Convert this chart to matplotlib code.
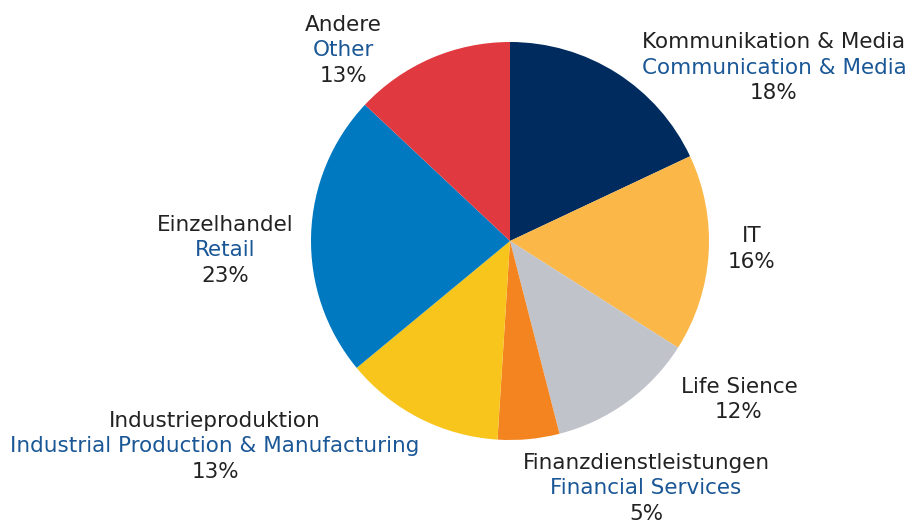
import matplotlib
matplotlib.use("Agg")
import matplotlib.pyplot as plt

# sector shares in percent, clockwise from 12 o'clock
labels_de = ["Kommunikation & Media", "IT", "Life Sience", "Finanzdienstleistungen",
             "Industrieproduktion", "Einzelhandel", "Andere"]
labels_en = ["Communication & Media", None, None, "Financial Services",
             "Industrial Production & Manufacturing", "Retail", "Other"]
shares = [18, 16, 12, 5, 13, 23, 13]
colors = ["#002B5E", "#FBB747", "#C0C3CA", "#F3841F", "#F8C51C", "#0079C1", "#E03A40"]

# label anchor (pixel coords: centre x, baseline of first line)
label_pos = [(774, 48), (752, 242), (739, 393), (646, 469),
             (215, 427), (225, 231), (343, 31)]

W, H = 908, 524


def main():
    fig = plt.figure(figsize=(W / 100, H / 100), dpi=100)
    ax = fig.add_axes([0, 0, 1, 1])

    ax.pie(shares, colors=colors, startangle=90, counterclock=False,
           center=(510, H - 241), radius=199,
           wedgeprops=dict(linewidth=0))
    ax.set_xlim(0, W)
    ax.set_ylim(0, H)
    ax.set_aspect("equal")
    ax.axis("off")

    step = 25.5
    for de, en, v, (x, y) in zip(labels_de, labels_en, shares, label_pos):
        lines = [(de, "#222222")]
        if en:
            lines.append((en, "#1A5796"))
        lines.append(("%d%%" % v, "#222222"))
        for i, (txt, c) in enumerate(lines):
            ax.text(x, H - (y + i * step), txt, color=c, fontsize=15.5,
                    ha="center", va="baseline", family="DejaVu Sans")

    fig.savefig("out.png", dpi=100)


if __name__ == '__main__':
    main()
